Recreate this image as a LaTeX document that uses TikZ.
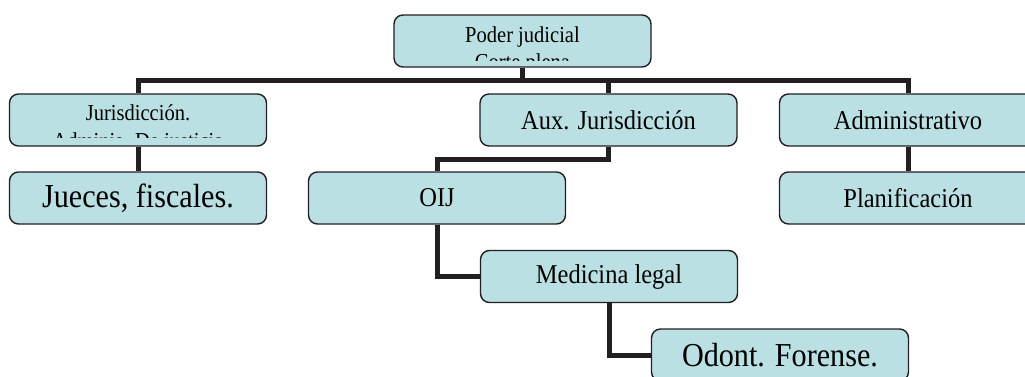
\documentclass[tikz,border=0pt]{standalone}
\usepackage{fontspec}
\setmainfont[FakeStretch=0.9]{Liberation Serif}
\usepackage{tikz}

\definecolor{boxfill}{RGB}{187,224,227}
\definecolor{linec}{RGB}{35,31,32}

\begin{document}
\begin{tikzpicture}[x=1pt, y=-1pt,
  orgbox/.style={draw=linec, line width=1.4pt, rounded corners=9pt, fill=boxfill, minimum width=257pt, minimum height=52pt, inner sep=0pt},
  small/.style={font=\fontsize{22.8}{26}\selectfont, inner sep=0pt},
  mid/.style={orgbox, font=\fontsize{27.2}{32}\selectfont},
  big/.style={orgbox, font=\fontsize{33.5}{38}\selectfont},
  link/.style={draw=linec, line width=5pt}]
\useasboundingbox (0,0) rectangle (1025,376);
\node (pj) [orgbox] at (522.5,41) {};
\node (jur) [orgbox] at (138,120) {};
\node (jue) [big] at (138,198) {Jueces, fiscales.};
\node (aux) [mid] at (608.5,120) {Aux. Jurisdicción};
\node (oij) [mid] at (437,198) {OIJ};
\node (med) [mid] at (609,276.5) {Medicina legal};
\node (odo) [big] at (780,355) {Odont. Forense.};
\node (adm) [mid] at (908,120) {Administrativo};
\node (pla) [mid] at (908,198) {Planificación};
% texto cortado en las dos cajas de dos lineas
\begin{scope}
\clip (pj.south west) ++(0,-7) rectangle (pj.north east);
\node (pj1) [small, anchor=base] at ([yshift=-28pt]pj.north) {Poder judicial};
\node (pj2) [small, anchor=base] at ([yshift=-55pt]pj.north) {Corte plena};
\end{scope}
\begin{scope}
\clip (jur.south west) ++(0,-9) rectangle (jur.north east);
\node (jur1) [small, anchor=base] at ([yshift=-27pt]jur.north) {Jurisdicción.};
\node (jur2) [small, anchor=base] at ([yshift=-55pt]jur.north) {Adminis. De justicia};
\end{scope}
\coordinate (bus) at (522.5,80);
\draw[link] (pj.south) -- (bus);
\draw[link] (jur.north) |- (bus) -| (adm.north);
\draw[link] (aux.north) -- (aux.north |- bus);
\draw[link] (jur.south) -- (jue.north);
\draw[link] (aux.south) -- ++(0,13) -| (oij.north);
\draw[link] (oij.south) |- (med.west);
\draw[link] (med.south) |- (odo.west);
\draw[link] (adm.south) -- (pla.north);
\end{tikzpicture}
\end{document}
